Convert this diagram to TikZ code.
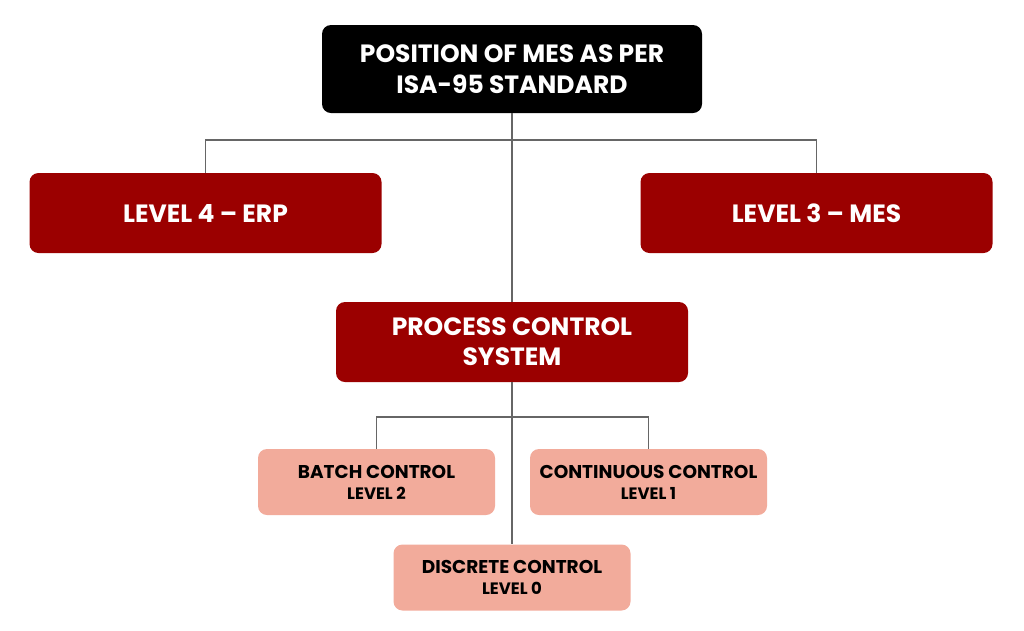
\documentclass[tikz,border=0pt]{standalone}
\usepackage{fontspec}
\setmainfont{Poppins}
\definecolor{darkred}{HTML}{9B0000}
\definecolor{pinkbox}{HTML}{F2AB9B}
\definecolor{linegray}{HTML}{666666}
\newcommand{\pinktitle}[1]{{\fontsize{18.5}{21}\selectfont #1}}
\begin{document}
\begin{tikzpicture}[x=1pt,y=-1pt,
  box/.style={rounded corners=9pt, inner sep=0pt, align=center},
  topbox/.style={box, fill=black, text=white, minimum width=380pt, minimum height=88pt, font=\bfseries\fontsize{25}{31}\selectfont},
  redbox/.style={box, fill=darkred, text=white, minimum width=352pt, minimum height=80pt, font=\bfseries\fontsize{25}{30}\selectfont},
  pinkbox/.style={box, fill=pinkbox, text=black, minimum width=237pt, minimum height=66pt, font=\bfseries\fontsize{16.5}{21}\selectfont},
  conn/.style={draw=linegray, line width=1.4pt}]
\useasboundingbox (0,0) rectangle (1024,630);
\node[topbox] (top) at (512,69) {POSITION OF MES AS PER\\ISA-95 STANDARD};
\node[redbox] (erp) at (205.5,213) {LEVEL 4 – ERP};
\node[redbox] (mes) at (816.5,213) {LEVEL 3 – MES};
\node[redbox] (pcs) at (512,342) {PROCESS CONTROL\\SYSTEM};
\node[pinkbox] (batch) at (376.5,482) {\pinktitle{BATCH CONTROL}\\LEVEL 2};
\node[pinkbox] (cont) at (648.5,482) {\pinktitle{CONTINUOUS CONTROL}\\LEVEL 1};
\node[pinkbox] (disc) at (512,577.5) {\pinktitle{DISCRETE CONTROL}\\LEVEL 0};
\coordinate (j1) at (512,140);
\coordinate (j2) at (512,417);
\draw[conn] (top.south) -- (pcs.north);
\draw[conn] (erp.north) |- (j1) -| (mes.north);
\draw[conn] (pcs.south) -- (disc.north);
\draw[conn] (batch.north) |- (j2) -| (cont.north);
\end{tikzpicture}
\end{document}
